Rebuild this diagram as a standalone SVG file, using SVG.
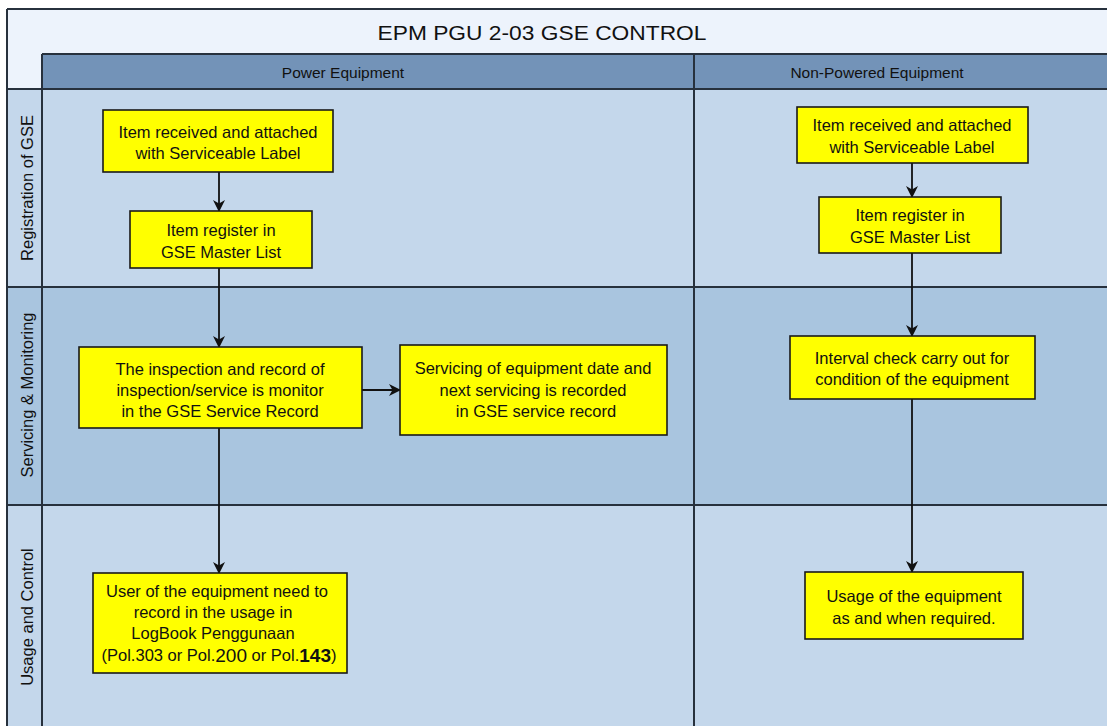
<svg xmlns="http://www.w3.org/2000/svg" width="1107" height="726" viewBox="0 0 1107 726">
  <defs>
    <marker id="arrow" viewBox="0 0 12 12" refX="11" refY="6" markerWidth="12" markerHeight="12" markerUnits="userSpaceOnUse" orient="auto">
      <path d="M0,0 L12,6 L0,12 L3.5,6 z" fill="#111"/>
    </marker>
    <style>
      .lane-line { stroke: #27313d; stroke-width: 2; fill: none; }
      .box { fill: #ffff00; stroke: #1a1a1a; stroke-width: 1.6; }
      .txt { font-family: "Liberation Sans", Arial, sans-serif; font-size: 16.5px; fill: #111; text-anchor: middle; dominant-baseline: central; }
      .hdr { font-family: "Liberation Sans", Arial, sans-serif; font-size: 15.5px; fill: #111; text-anchor: middle; dominant-baseline: central; }
      .title { font-family: "Liberation Sans", Arial, sans-serif; font-size: 21px; fill: #111; text-anchor: middle; dominant-baseline: central; }
      .lane-lbl { font-family: "Liberation Sans", Arial, sans-serif; font-size: 16.5px; fill: #111; text-anchor: middle; dominant-baseline: central; }
      .conn { stroke: #111; stroke-width: 1.8; fill: none; marker-end: url(#arrow); }
    </style>
  </defs>

  <!-- page background -->
  <rect x="0" y="0" width="1107" height="726" fill="#ffffff"/>

  <!-- swimlane pool -->
  <g id="pool">
    <rect x="7" y="9" width="1100" height="80" fill="#edf3fc"/>
    <rect x="42" y="54" width="1065" height="35" fill="#7393b8"/>
    <rect x="7" y="89" width="1100" height="198" fill="#c4d7eb"/>
    <rect x="7" y="287" width="1100" height="218" fill="#a9c5df"/>
    <rect x="7" y="505" width="1100" height="221" fill="#c4d7eb"/>

    <line class="lane-line" x1="7" y1="9" x2="1107" y2="9"/>
    <line class="lane-line" x1="42" y1="54" x2="1107" y2="54"/>
    <line class="lane-line" x1="7" y1="89" x2="1107" y2="89"/>
    <line class="lane-line" x1="7" y1="287" x2="1107" y2="287"/>
    <line class="lane-line" x1="7" y1="505" x2="1107" y2="505"/>
    <line class="lane-line" x1="7" y1="9" x2="7" y2="726"/>
    <line class="lane-line" x1="42" y1="54" x2="42" y2="726"/>
    <line class="lane-line" x1="694" y1="54" x2="694" y2="726"/>

    <text class="title" x="542" y="32" textLength="329" lengthAdjust="spacingAndGlyphs">EPM PGU 2-03 GSE CONTROL</text>
    <text class="hdr" x="343" y="72">Power Equipment</text>
    <text class="hdr" x="877" y="72">Non-Powered Equipment</text>

    <text class="lane-lbl" transform="translate(27,188) rotate(-90)">Registration of GSE</text>
    <text class="lane-lbl" transform="translate(27,395) rotate(-90)">Servicing &amp; Monitoring</text>
    <text class="lane-lbl" transform="translate(27,617) rotate(-90)">Usage and Control</text>
  </g>

  <!-- connectors -->
  <g id="connectors">
    <line class="conn" x1="219" y1="172" x2="219" y2="211"/>
    <line class="conn" x1="219" y1="268" x2="219" y2="347"/>
    <line class="conn" x1="362" y1="390" x2="400" y2="390"/>
    <line class="conn" x1="219" y1="428" x2="219" y2="573"/>
    <line class="conn" x1="912" y1="163" x2="912" y2="197"/>
    <line class="conn" x1="912" y1="253" x2="912" y2="336"/>
    <line class="conn" x1="912" y1="399" x2="912" y2="572"/>
  </g>

  <!-- Power Equipment lane -->
  <g id="pe-received">
    <rect class="box" x="103" y="110" width="230" height="62"/>
    <text class="txt" x="218" y="132">Item received and attached</text>
    <text class="txt" x="218" y="153">with Serviceable Label</text>
  </g>
  <g id="pe-register">
    <rect class="box" x="130" y="211" width="182" height="57"/>
    <text class="txt" x="221" y="230">Item register in</text>
    <text class="txt" x="221" y="252">GSE Master List</text>
  </g>
  <g id="pe-inspection">
    <rect class="box" x="79" y="347" width="283" height="81"/>
    <text class="txt" x="220" y="369">The inspection and record of</text>
    <text class="txt" x="220" y="390">inspection/service is monitor</text>
    <text class="txt" x="220" y="411">in the GSE Service Record</text>
  </g>
  <g id="pe-servicing">
    <rect class="box" x="400" y="345" width="267" height="90"/>
    <text class="txt" x="533" y="368">Servicing of equipment date and</text>
    <text class="txt" x="533" y="390">next servicing is recorded</text>
    <text class="txt" x="536" y="411">in GSE service record</text>
  </g>
  <g id="pe-usage">
    <rect class="box" x="93" y="573" width="254" height="100"/>
    <text class="txt" x="217" y="591">User of the equipment need to</text>
    <text class="txt" x="213" y="612">record in the usage in</text>
    <text class="txt" x="213" y="633">LogBook Penggunaan</text>
    <text class="txt" x="219" y="655">(Pol.303 or Pol.<tspan font-size="19">200</tspan> or Pol.<tspan font-size="19" font-weight="bold">143</tspan>)</text>
  </g>

  <!-- Non-Powered Equipment lane -->
  <g id="npe-received">
    <rect class="box" x="797" y="107" width="231" height="56"/>
    <text class="txt" x="912" y="125">Item received and attached</text>
    <text class="txt" x="912" y="147">with Serviceable Label</text>
  </g>
  <g id="npe-register">
    <rect class="box" x="819" y="197" width="182" height="56"/>
    <text class="txt" x="910" y="215">Item register in</text>
    <text class="txt" x="910" y="237">GSE Master List</text>
  </g>
  <g id="npe-interval">
    <rect class="box" x="790" y="336" width="245" height="63"/>
    <text class="txt" x="912" y="358">Interval check carry out for</text>
    <text class="txt" x="912" y="379">condition of the equipment</text>
  </g>
  <g id="npe-usage">
    <rect class="box" x="805" y="572" width="218" height="67"/>
    <text class="txt" x="914" y="596">Usage of the equipment</text>
    <text class="txt" x="914" y="618">as and when required.</text>
  </g>
</svg>
